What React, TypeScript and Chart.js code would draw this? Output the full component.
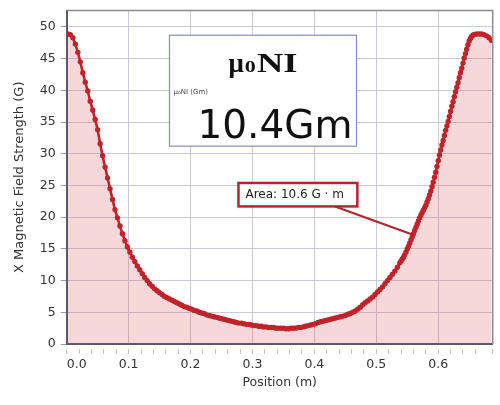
import { useEffect, useRef } from "react";
import { Chart, registerables } from "chart.js";

Chart.register(...registerables);

// Sample positions along the axis (m)
const POSITIONS = [
  0.002, 0.006, 0.010, 0.014, 0.018, 0.022, 0.026, 0.030, 0.034, 0.038,
  0.042, 0.046, 0.050, 0.054, 0.058, 0.062, 0.066, 0.070, 0.074, 0.078,
  0.082, 0.086, 0.090, 0.094, 0.098, 0.102, 0.106, 0.110, 0.114, 0.118,
  0.122, 0.126, 0.130, 0.134, 0.138, 0.142, 0.146, 0.150, 0.154, 0.158,
  0.162, 0.166, 0.170, 0.174, 0.178, 0.182, 0.186, 0.190, 0.194, 0.198,
  0.202, 0.206, 0.210, 0.214, 0.218, 0.222, 0.226, 0.230, 0.234, 0.238,
  0.242, 0.246, 0.250, 0.254, 0.258, 0.262, 0.266, 0.270, 0.274, 0.278,
  0.282, 0.286, 0.290, 0.294, 0.298, 0.302, 0.306, 0.310, 0.314, 0.318,
  0.322, 0.326, 0.330, 0.334, 0.338, 0.342, 0.346, 0.350, 0.354, 0.358,
  0.362, 0.366, 0.370, 0.374, 0.378, 0.382, 0.386, 0.390, 0.394, 0.398,
  0.402, 0.406, 0.410, 0.414, 0.418, 0.422, 0.426, 0.430, 0.434, 0.438,
  0.442, 0.446, 0.450, 0.454, 0.458, 0.462, 0.466, 0.470, 0.474, 0.478,
  0.482, 0.486, 0.490, 0.494, 0.498, 0.502, 0.506, 0.510, 0.514, 0.518,
  0.522, 0.526, 0.530, 0.534,
  0.538, 0.540, 0.542, 0.544, 0.546, 0.548, 0.550, 0.552, 0.554, 0.556,
  0.558, 0.560, 0.562, 0.564, 0.566, 0.568, 0.570, 0.572, 0.574, 0.576,
  0.578, 0.580, 0.582, 0.584, 0.586, 0.588, 0.590, 0.592, 0.594, 0.596,
  0.598, 0.600, 0.602, 0.604, 0.606, 0.608, 0.610, 0.612, 0.614, 0.616,
  0.618, 0.620, 0.622, 0.624, 0.626, 0.628, 0.630, 0.632, 0.634, 0.636,
  0.638, 0.640, 0.642, 0.644, 0.646, 0.648, 0.650, 0.652, 0.654, 0.656,
  0.658,
  0.662, 0.666, 0.670, 0.674, 0.678, 0.682, 0.686,
];

// X magnetic field strength (G)
const FIELD = [
  48.9, 48.8, 48.3, 47.3, 46.0, 44.5, 42.8, 41.3, 39.9, 38.3,
  36.9, 35.4, 33.8, 31.6, 29.7, 27.9, 26.2, 24.5, 22.8, 21.2,
  19.9, 18.6, 17.4, 16.3, 15.3, 14.5, 13.7, 13.0, 12.3, 11.7,
  11.1, 10.5, 10.0, 9.5, 9.1, 8.7, 8.4, 8.1, 7.8, 7.5,
  7.3, 7.1, 6.9, 6.7, 6.5, 6.3, 6.1, 5.9, 5.8, 5.6,
  5.5, 5.3, 5.2, 5.0, 4.9, 4.8, 4.6, 4.5, 4.4, 4.3,
  4.2, 4.1, 4.0, 3.9, 3.8, 3.7, 3.6, 3.5, 3.4, 3.3,
  3.3, 3.2, 3.1, 3.1, 3.0, 2.9, 2.9, 2.8, 2.8, 2.7,
  2.7, 2.6, 2.6, 2.6, 2.5, 2.5, 2.5, 2.5, 2.4, 2.4,
  2.5, 2.5, 2.5, 2.6, 2.6, 2.7, 2.8, 2.9, 3.0, 3.1,
  3.2, 3.4, 3.5, 3.6, 3.7, 3.8, 3.9, 4.0, 4.1, 4.2,
  4.3, 4.4, 4.5, 4.7, 4.8, 5.0, 5.2, 5.5, 5.8, 6.2,
  6.5, 6.8, 7.1, 7.4, 7.8, 8.2, 8.6, 9.0, 9.5, 10.0,
  10.5, 11.0, 11.5, 12.1,
  12.8, 13.1, 13.4, 13.7, 14.1, 14.5, 15.0, 15.4, 15.9, 16.4,
  16.9, 17.4, 17.9, 18.4, 18.9, 19.4, 19.9, 20.3, 20.7, 21.1,
  21.5, 21.9, 22.4, 22.9, 23.5, 24.1, 24.8, 25.5, 26.3, 27.1,
  28.0, 28.9, 29.8, 30.6, 31.4, 32.1, 32.9, 33.7, 34.4, 35.1,
  35.9, 36.7, 37.5, 38.2, 39.0, 39.8, 40.5, 41.2, 42.0, 42.8,
  43.5, 44.3, 45.1, 45.8, 46.5, 47.2, 47.8, 48.2, 48.5, 48.7,
  48.8,
  48.9, 48.9, 48.9, 48.8, 48.6, 48.3, 47.9,
];

const X_MIN = 0;
const X_MAX = 0.688;
const X_STEP = 0.02;
const Y_MIN = 0;
const Y_MAX = 52.6;
const Y_STEP = 5;

// annotation texts and anchors (data coordinates)
const TITLE_SYMBOL = "μ";
const TITLE_SUB = "0";
const TITLE_REST = "NI";
const SMALL_LABEL = "μ₀NI (Gm)";
const BIG_VALUE = "10.4Gm";
const AREA_LABEL = "Area: 10.6 G · m";
const INFO_BOX = { x0: 0.166, x1: 0.468, y0: 48.7, y1: 31.2 };
const AREA_BOX = { x0: 0.2774, x1: 0.4694, y0: 25.4, y1: 21.7 };
const AREA_LINE = { x0: 0.4334, y0: 21.7, x1: 0.557, y1: 17.3 };

const RED = "#c1232b";
const FILL = "rgba(215, 60, 70, 0.2)";
const GRID = "#cbcbd6";
const AXIS = "#5a5a6e";
const TEXT = "#333333";

const isMajorX = (v: number) => Math.abs(v * 10 - Math.round(v * 10)) < 1e-6;

const overlay = {
  id: "overlay",
  afterDatasetsDraw(chart: any) {
    const { ctx, chartArea: ca, scales } = chart;
    const xs = scales.x;
    const ys = scales.y;
    ctx.save();
    // frame (top + right)
    ctx.strokeStyle = "#8a8a96";
    ctx.lineWidth = 1.5;
    ctx.beginPath();
    ctx.moveTo(ca.left, ca.top);
    ctx.lineTo(ca.right, ca.top);
    ctx.lineTo(ca.right, ca.bottom);
    ctx.stroke();

    // info box
    const L = xs.getPixelForValue(INFO_BOX.x0);
    const R = xs.getPixelForValue(INFO_BOX.x1);
    const T = ys.getPixelForValue(INFO_BOX.y0);
    const B = ys.getPixelForValue(INFO_BOX.y1);
    ctx.fillStyle = "#ffffff";
    ctx.fillRect(L, T, R - L, B - T);
    ctx.strokeStyle = "#8c8cc0";
    ctx.lineWidth = 1.2;
    ctx.strokeRect(L, T, R - L, B - T);

    // μ0NI title
    ctx.fillStyle = "#111111";
    ctx.textBaseline = "alphabetic";
    ctx.textAlign = "left";
    const big = "bold 27px 'Liberation Serif'";
    const sub = "bold 17px 'Liberation Serif'";
    const stretch = 1.35;
    ctx.font = big;
    const w1 = ctx.measureText(TITLE_SYMBOL).width;
    const w3 = ctx.measureText(TITLE_REST).width * stretch;
    ctx.font = sub;
    const w2 = ctx.measureText(TITLE_SUB).width * 1.3;
    const total = w1 + w2 + w3 + 2;
    let tx = (L + R) / 2 - total / 2;
    const base = T + 37;
    ctx.font = big;
    ctx.fillText(TITLE_SYMBOL, tx, base);
    tx += w1 + 1;
    ctx.save();
    ctx.font = sub;
    ctx.translate(tx, base);
    ctx.scale(1.3, 1);
    ctx.fillText(TITLE_SUB, 0, 0);
    ctx.restore();
    tx += w2 + 1;
    ctx.save();
    ctx.font = big;
    ctx.translate(tx, base);
    ctx.scale(stretch, 1);
    ctx.fillText(TITLE_REST, 0, 0);
    ctx.restore();

    // small label
    ctx.font = "7px 'DejaVu Sans'";
    ctx.fillStyle = "#444444";
    ctx.textBaseline = "middle";
    ctx.textAlign = "left";
    ctx.fillText(SMALL_LABEL, L + 4, T + 57);

    // big value
    ctx.font = "39px 'DejaVu Sans'";
    ctx.fillStyle = "#111111";
    ctx.textAlign = "right";
    ctx.textBaseline = "alphabetic";
    ctx.fillText(BIG_VALUE, R - 4, B - 8);

    // area connector line
    ctx.strokeStyle = "#b3262e";
    ctx.lineWidth = 2.2;
    ctx.beginPath();
    ctx.moveTo(xs.getPixelForValue(AREA_LINE.x0), ys.getPixelForValue(AREA_LINE.y0));
    ctx.lineTo(xs.getPixelForValue(AREA_LINE.x1), ys.getPixelForValue(AREA_LINE.y1));
    ctx.stroke();

    // area box
    const aL = xs.getPixelForValue(AREA_BOX.x0);
    const aR = xs.getPixelForValue(AREA_BOX.x1);
    const aT = ys.getPixelForValue(AREA_BOX.y0);
    const aB = ys.getPixelForValue(AREA_BOX.y1);
    ctx.fillStyle = "#ffffff";
    ctx.fillRect(aL, aT, aR - aL, aB - aT);
    ctx.lineWidth = 2.5;
    ctx.strokeRect(aL, aT, aR - aL, aB - aT);
    ctx.font = "12px 'DejaVu Sans'";
    ctx.fillStyle = "#222222";
    ctx.textAlign = "left";
    ctx.textBaseline = "middle";
    ctx.fillText(AREA_LABEL, aL + 7, (aT + aB) / 2);
    ctx.restore();
  },
};

export default function App() {
  const canvasRef = useRef<HTMLCanvasElement | null>(null);

  useEffect(() => {
    document.body.style.margin = "0";
    const canvas = canvasRef.current;
    if (!canvas) return;
    const points = POSITIONS.map((x, i) => ({ x, y: FIELD[i] }));
    const chart = new Chart(canvas, {
      type: "line",
      data: {
        datasets: [
          {
            data: points,
            borderColor: RED,
            backgroundColor: FILL,
            borderWidth: 2.6,
            pointRadius: 2.7,
            pointBorderWidth: 0,
            pointBackgroundColor: RED,
            fill: "start",
            tension: 0,
          },
        ],
      },
      options: {
        animation: false,
        responsive: true,
        maintainAspectRatio: false,
        layout: { padding: { top: 9.3, right: 7.3, left: 0, bottom: 0 } },
        plugins: { legend: { display: false }, tooltip: { enabled: false } },
        scales: {
          x: {
            type: "linear",
            min: X_MIN,
            max: X_MAX,
            ticks: {
              stepSize: X_STEP,
              autoSkip: false,
              maxRotation: 0,
              align: "inner",
              padding: 3,
              color: TEXT,
              font: { family: "DejaVu Sans", size: 12.5 },
              callback: (v: any) => (isMajorX(Number(v)) ? Number(v).toFixed(1) : ""),
            },
            grid: {
              color: (c: any) => (c.tick && isMajorX(c.tick.value) && c.tick.value > 0 && c.tick.value < X_MAX - 0.01 ? GRID : "rgba(0,0,0,0)"),
              tickColor: "#c4c4cc",
              tickLength: 10,
              tickBorderDash: [0, 4, 6, 100],
              lineWidth: 1,
            },
            border: { color: AXIS, width: 2 },
            title: {
              display: true,
              text: "Position (m)",
              color: TEXT,
              font: { family: "DejaVu Sans", size: 12.5 },
              padding: { top: 0, bottom: 14.5 },
            },
            afterFit: (s: any) => {
              s.height = 61;
            },
          },
          y: {
            type: "linear",
            min: Y_MIN,
            max: Y_MAX,
            ticks: {
              stepSize: Y_STEP,
              includeBounds: false,
              padding: 3,
              color: TEXT,
              font: { family: "DejaVu Sans", size: 12.5 },
            },
            grid: {
              color: (c: any) => (c.tick && c.tick.value > 0 ? GRID : "rgba(0,0,0,0)"),
              tickColor: "#9a9aa6",
              tickLength: 8,
              tickBorderDash: [0, 2, 6, 100],
              lineWidth: 1,
            },
            border: { color: AXIS, width: 2 },
            title: {
              display: true,
              text: "X Magnetic Field Strength (G)",
              color: TEXT,
              font: { family: "DejaVu Sans", size: 13 },
              padding: { top: 12, bottom: 0 },
            },
            afterFit: (s: any) => {
              s.width = 66.7;
            },
          },
        },
      },
      plugins: [overlay],
    });
    return () => chart.destroy();
  }, []);

  return (
    <div style={{ position: "absolute", left: 0, top: 0, width: 500, height: 405, background: "#fff" }}>
      <canvas ref={canvasRef} />
    </div>
  );
}
